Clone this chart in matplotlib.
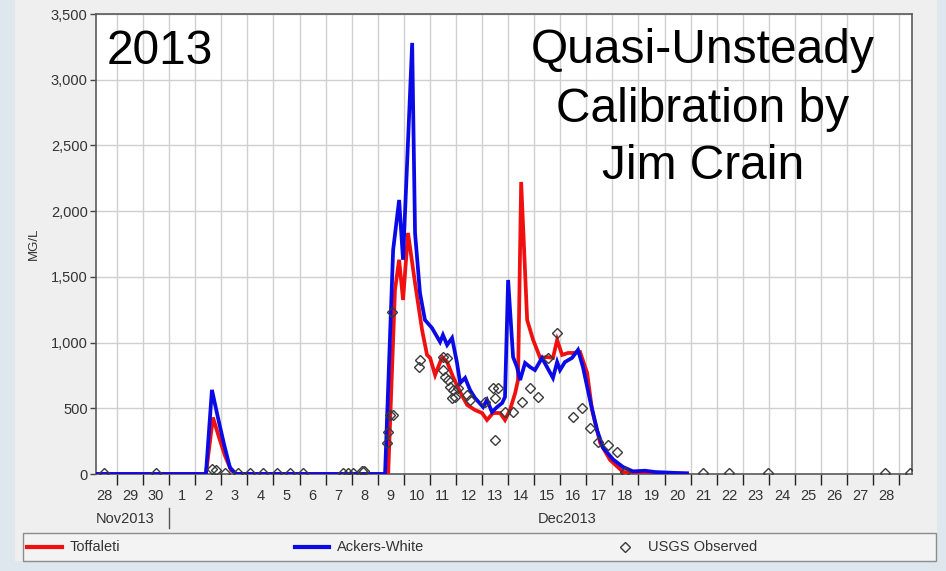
import matplotlib
matplotlib.use("Agg")
import matplotlib.pyplot as plt
from matplotlib.patches import Rectangle
from matplotlib.lines import Line2D
from matplotlib.ticker import FuncFormatter, FixedLocator

# x values are days after 28 Nov 2013 00:00
toffaleti_day = [0.2, 4.41, 4.68, 4.91, 5.14, 5.37, 5.60, 11.40, 11.66, 11.82, 11.97, 12.16,
                 12.43, 12.70, 12.89, 13.01, 13.20, 13.47, 13.66, 13.89, 14.16, 14.43, 14.73,
                 15.00, 15.19, 15.42, 15.69, 15.88, 16.07, 16.27, 16.38, 16.50, 16.73, 16.96,
                 17.23, 17.49, 17.72, 17.88, 18.07, 18.30, 18.49, 18.76, 19.03, 19.22, 19.53,
                 19.91, 20.41, 21.06, 21.83, 22.86]
toffaleti_val = [0, 0, 430, 280, 140, 30, 0, 0, 1400, 1630, 1324, 1834,
                 1453, 1096, 906, 883, 753, 890, 852, 738, 624, 525, 487,
                 464, 411, 464, 464, 411, 487, 616, 715, 2222, 1172, 1020,
                 883, 890, 883, 1020, 906, 921, 921, 928, 769, 487, 236,
                 107, 15, 10, 5, 3]

ackers_day = [0.2, 4.41, 4.64, 4.87, 5.10, 5.33, 5.56, 11.28, 11.59, 11.82, 11.97, 12.32,
              12.43, 12.62, 12.81, 13.08, 13.39, 13.50, 13.66, 13.85, 14.04, 14.16, 14.35,
              14.54, 14.73, 15.04, 15.19, 15.38, 15.58, 15.77, 15.88, 16.00, 16.19, 16.34,
              16.46, 16.65, 16.84, 17.03, 17.30, 17.49, 17.72, 17.88, 17.99, 18.18, 18.45,
              18.68, 18.87, 19.14, 19.41, 19.64, 20.03, 20.41, 20.79, 21.25, 21.64, 22.21,
              22.86]
ackers_val = [0, 0, 640, 430, 230, 50, 0, 0, 1705, 2085, 1630, 3280,
              1834, 1377, 1172, 1111, 1005, 1058, 982, 1035, 845, 692, 731,
              639, 578, 510, 563, 472, 510, 540, 586, 1476, 890, 814,
              715, 845, 814, 791, 883, 814, 731, 852, 791, 852, 883,
              944, 814, 563, 335, 200, 110, 53, 20, 25, 15, 10,
              5]

usgs_day = [0.50, 2.50, 4.64, 4.80, 5.14, 5.64, 6.10, 6.60, 7.14, 7.64, 8.13, 9.67, 9.86,
            10.05, 10.40, 10.47, 11.36, 11.40, 11.47, 11.59, 11.55, 12.62, 12.60, 13.50,
            13.66, 13.50, 13.58, 13.70, 13.77, 13.89, 13.85, 13.97, 14.08, 14.43, 14.54,
            15.12, 15.42, 15.50, 15.61, 15.50, 15.88, 16.19, 16.53, 16.84, 17.15, 17.53,
            17.88, 18.49, 18.84, 19.14, 19.45, 19.83, 20.18, 20.49, 23.48, 24.48, 25.97,
            30.46, 31.42]
usgs_val = [5, 5, 40, 30, 10, 5, 5, 5, 5, 5, 5, 5, 5,
            5, 20, 25, 236, 320, 449, 449, 1233, 868, 814, 890,
            883, 791, 738, 715, 662, 639, 578, 586, 654, 601, 563,
            548, 654, 578, 654, 259, 472, 472, 548, 654, 586, 883,
            1073, 434, 502, 350, 244, 221, 167, 15, 5, 5, 5,
            5, 5]

day_labels = ["28", "29", "30"] + [str(d) for d in range(1, 29)]
month_labels = ["Nov2013", "Dec2013"]

W, H = 946, 571
fig = plt.figure(figsize=(W / 100, H / 100), dpi=100)
fig.patch.set_facecolor("#dfe7ee")
plt.rcParams["font.family"] = ["Liberation Sans", "DejaVu Sans"]

def px(x, y, w=0, h=0):
    # figure fraction from pixel box (top-left origin)
    return [x / W, 1 - (y + h) / H, w / W, h / H]

# grey panel and legend strip
fig.add_artist(Rectangle((15 / W, 1 - 561 / H), 922 / W, 561 / H, transform=fig.transFigure,
                         facecolor="#efefef", edgecolor="none", zorder=0))
fig.add_artist(Rectangle((23 / W, 1 - 561 / H), 913 / W, 28 / H, transform=fig.transFigure,
                         facecolor="#f3f3f3", edgecolor="#8c8c8c", lw=1.0, zorder=1))

ax = fig.add_axes(px(96, 14, 816, 460))
ax.set_facecolor("white")

ax.plot(toffaleti_day, toffaleti_val, color="#f01010", lw=2.7, zorder=3, solid_joinstyle="miter")
ax.plot(ackers_day, ackers_val, color="#0a0ae6", lw=2.7, zorder=4, solid_joinstyle="miter")
ax.plot(usgs_day, usgs_val, linestyle="none", marker="D", ms=5, mfc="none",
        mec="#3a3a3a", mew=1.0, zorder=5)

ax.set_xlim(0.194, 31.49)
ax.set_ylim(0, 3500)

ax.xaxis.set_major_locator(FixedLocator(range(1, 32)))
ax.xaxis.set_minor_locator(FixedLocator([d + 0.5 for d in range(len(day_labels))]))
ax.set_xticklabels([])
ax.set_xticklabels(day_labels, minor=True)
ax.tick_params(axis="x", which="major", direction="out", length=8, width=1.0, color="#222222")
ax.tick_params(axis="x", which="minor", length=0, pad=11, labelsize=10.5, labelcolor="#333333")

ax.set_yticks(range(0, 3501, 500))
ax.yaxis.set_major_formatter(FuncFormatter(lambda v, p: f"{int(v):,}"))
ax.tick_params(axis="y", direction="out", length=4, width=1.0, color="#444444",
               labelsize=10.5, labelcolor="#333333", pad=2)

ax.grid(True, which="major", color="#d0d0d0", lw=1.0)
ax.set_axisbelow(True)
for s in ax.spines.values():
    s.set_color("#5a5a5a")
    s.set_linewidth(1.2)

ax.set_ylabel("MG/L", fontsize=9.5, color="#333333", labelpad=8)

# month row
ax.text(0.17, -0.098, month_labels[0], transform=ax.get_xaxis_transform(), ha="left",
        va="center", fontsize=10.5, color="#333333")
ax.text(18.26, -0.098, month_labels[1], transform=ax.get_xaxis_transform(), ha="center",
        va="center", fontsize=10.5, color="#333333")
ax.plot([3, 3], [-0.074, -0.117], transform=ax.get_xaxis_transform(), color="#555555",
        lw=1.0, clip_on=False)

# big annotations
fig.text(107 / W, 1 - 64 / H, "2013", fontsize=34.5, ha="left", va="baseline", color="black")
for txt, base in [("Quasi-Unsteady", 63), ("Calibration by", 122), ("Jim Crain", 179)]:
    fig.text(703 / W, 1 - base / H, txt, fontsize=34.5, ha="center", va="baseline", color="black")

# legend entries
ly = 1 - 547 / H
fig.add_artist(Line2D([27 / W, 62 / W], [ly, ly], color="#f01010", lw=3))
fig.text(70 / W, ly, "Toffaleti", fontsize=10.5, va="center", color="#333333")
fig.add_artist(Line2D([295 / W, 329 / W], [ly, ly], color="#0a0ae6", lw=3))
fig.text(337 / W, ly, "Ackers-White", fontsize=10.5, va="center", color="#333333")
fig.add_artist(Line2D([625 / W], [ly], marker="D", ms=5, mfc="none", mec="#3a3a3a", mew=1.0))
fig.text(648 / W, ly, "USGS Observed", fontsize=10.5, va="center", color="#333333")

fig.savefig("out.png", dpi=100, facecolor=fig.get_facecolor())
